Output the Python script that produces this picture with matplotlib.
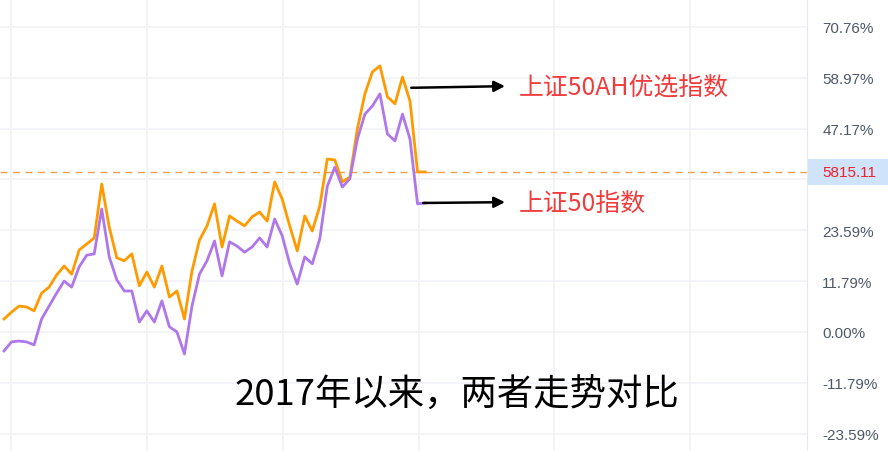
import matplotlib
matplotlib.use("Agg")
import matplotlib.pyplot as plt
import numpy as np

plt.rcParams['font.family'] = ['Noto Sans CJK SC', 'DejaVu Sans']

# cumulative return (%) since 2017
ah_index = [3.0, 4.6, 6.0, 5.8, 4.9, 9.0, 10.4, 13.2, 15.3, 13.4,
            19.0, 20.4, 21.8, 34.3, 24.3, 17.2, 16.5, 18.1, 10.7, 13.9,
            10.4, 15.3, 8.1, 9.5, 3.0, 14.1, 21.3, 24.6, 29.7, 19.7,
            26.9, 25.7, 24.6, 26.7, 27.8, 25.7, 34.8, 30.8, 24.6, 18.8,
            26.9, 23.4, 29.2, 40.1, 39.9, 34.8, 35.9, 47.1, 55.2, 60.3,
            61.7, 54.5, 52.9, 59.1, 53.5, 37.1, 37.1]
sz50_index = [-4.4, -2.3, -2.1, -2.3, -3.0, 3.0, 6.0, 9.0, 11.8, 10.4,
              15.1, 17.8, 18.1, 28.5, 17.4, 12.1, 9.5, 9.5, 2.3, 4.9,
              2.3, 7.2, 1.2, 0.0, -5.1, 6.0, 13.4, 16.5, 21.1, 13.0,
              20.9, 19.9, 18.5, 19.7, 21.8, 19.7, 26.2, 22.3, 15.8, 11.1,
              17.4, 15.8, 21.6, 33.8, 38.2, 33.6, 35.5, 44.7, 50.5, 52.4,
              55.2, 45.9, 44.3, 50.5, 44.7, 29.7, 29.9]
tick_values = [70.76, 58.97, 47.17, 35.38, 23.59, 11.79, 0.00, -11.79, -23.59]
tick_labels = ['70.76%', '58.97%', '47.17%', '', '23.59%', '11.79%', '0.00%', '-11.79%', '-23.59%']
last_price = '5815.11'
label_ah = '上证50AH优选指数'
label_sz50 = '上证50指数'
title = '2017年以来，两者走势对比'

x = np.arange(len(ah_index))

fig = plt.figure(figsize=(8.88, 4.52), dpi=100)
ax = fig.add_axes([0, 0, 807 / 888, 1])

ax.set_xlim(-0.53, 106.8)
ax.set_ylim(-27.6, 77.2)

# grid
ax.set_xticks(np.arange(0.93, 106, 18.07))
ax.set_xticklabels([])
ax.set_yticks(tick_values)
ax.set_yticklabels(tick_labels)
ax.grid(True, color='#f0f2f6', linewidth=1.2)
ax.yaxis.tick_right()
ax.tick_params(axis='y', length=0, pad=11, labelsize=11, labelcolor='#4f586a')
ax.tick_params(axis='x', length=0)
for lab in ax.get_yticklabels():
    lab.set_family(['Liberation Sans', 'DejaVu Sans'])
for side in ['top', 'left', 'bottom']:
    ax.spines[side].set_visible(False)
ax.spines['right'].set_color('#e6e9ee')

ax.plot(x, ah_index, color='#ff9a00', linewidth=2.0, zorder=3)
ax.plot(x, sz50_index, color='#b077ea', linewidth=2.0, zorder=3)

# last price line and its label box
ax.axhline(ah_index[-1], color='#eea050', linewidth=1, dashes=(5, 4), zorder=2)
ytrans = ax.get_yaxis_transform()
ax.add_patch(plt.Rectangle((1.0015, ah_index[-1] - 3.1), 80 / 807, 6.2,
                           transform=ytrans, facecolor='#cfe3fb',
                           edgecolor='none', clip_on=False))
ax.text(1.0186, ah_index[-1], last_price, transform=ytrans,
        ha='left', va='center', fontsize=11, color='#f0202a',
        family=['Liberation Sans', 'DejaVu Sans'], clip_on=False)

# labels with arrows
arrow = dict(arrowstyle='-|>', color='black', linewidth=1.8, mutation_scale=16)
ax.annotate('', xy=(67.0, 57.0), xytext=(53.8, 56.6), arrowprops=arrow)
ax.annotate('', xy=(67.0, 30.1), xytext=(55.4, 29.9), arrowprops=arrow)
ax.text(68.5, 57.0, label_ah, fontsize=17.9, color='#f03c3c', va='center', ha='left')
ax.text(68.5, 30.0, label_sz50, fontsize=17.9, color='#f03c3c', va='center', ha='left')

ax.text(60.2, -14.6, title, fontsize=26.2, color='black', va='center', ha='center')

fig.savefig('out.png', dpi=100)
